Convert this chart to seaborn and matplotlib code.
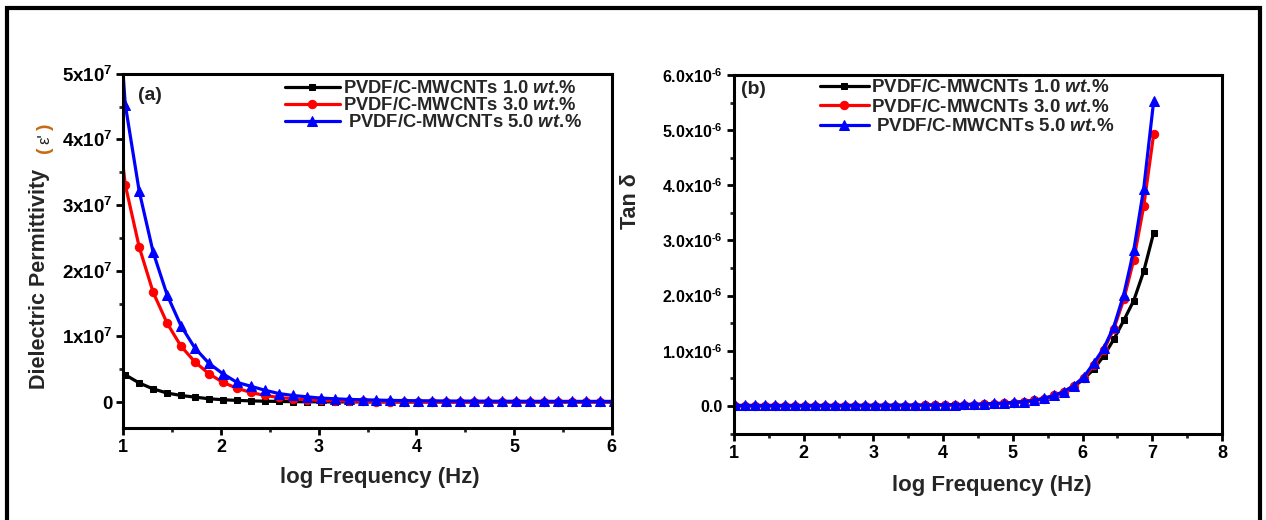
import matplotlib
matplotlib.use("Agg")
import matplotlib.pyplot as plt
import seaborn as sns
import pandas as pd
from matplotlib.patches import Rectangle
from matplotlib.ticker import MultipleLocator, FixedLocator, FixedFormatter

# ---------------- data ----------------
log_freq = [0.877, 1.020, 1.163, 1.306, 1.449, 1.591, 1.734, 1.877, 2.020, 2.163,
            2.306, 2.449, 2.591, 2.734, 2.877, 3.020, 3.163, 3.306, 3.449, 3.591,
            3.734, 3.877, 4.020, 4.163, 4.306, 4.449, 4.591, 4.734, 4.877, 5.020,
            5.163, 5.306, 5.449, 5.591, 5.734, 5.877, 6.020, 6.163, 6.306, 6.449,
            6.591, 6.734, 6.877, 7.020]

series_labels = ["PVDF/C-MWCNTs 1.0 $\\mathit{wt.\\!\\%}$",
                 "PVDF/C-MWCNTs 3.0 $\\mathit{wt.\\!\\%}$",
                 " PVDF/C-MWCNTs 5.0 $\\mathit{wt.\\!\\%}$"]

# Dielectric permittivity, units of 1e7 (first 37 frequencies)
perm_1wt = [0.72, 0.415, 0.29, 0.20, 0.137, 0.10, 0.075, 0.05, 0.035, 0.025,
            0.018, 0.013, 0.009, 0.006, 0.004, 0.003, 0.002, 0.002, 0.001, 0.001,
            0.001, 0.001, 0.001, 0.001, 0.0, 0.0, 0.0, 0.0, 0.0, 0.0,
            0.0, 0.0, 0.0, 0.0, 0.0, 0.0, 0.0]
perm_3wt = [5.15, 3.31, 2.36, 1.67, 1.20, 0.85, 0.61, 0.43, 0.30, 0.21,
            0.146, 0.10, 0.07, 0.05, 0.035, 0.025, 0.018, 0.013, 0.009, 0.007,
            0.005, 0.004, 0.003, 0.002, 0.002, 0.002, 0.001, 0.001, 0.001, 0.001,
            0.001, 0.001, 0.0, 0.0, 0.0, 0.0, 0.0]
perm_5wt = [7.6, 4.53, 3.21, 2.28, 1.63, 1.16, 0.82, 0.59, 0.43, 0.30,
            0.24, 0.18, 0.13, 0.10, 0.08, 0.06, 0.05, 0.04, 0.035, 0.03,
            0.025, 0.022, 0.02, 0.018, 0.016, 0.015, 0.014, 0.013, 0.012, 0.012,
            0.011, 0.011, 0.01, 0.01, 0.01, 0.01, 0.01]

# Tan delta, units of 1e-6 (44 frequencies)
tan_1wt = [0.0, 0.0, 0.0, 0.0, 0.0, 0.0, 0.0, 0.0, 0.0, 0.0,
           0.001, 0.001, 0.002, 0.002, 0.003, 0.003, 0.004, 0.005, 0.006, 0.007,
           0.008, 0.01, 0.012, 0.015, 0.018, 0.022, 0.028, 0.036, 0.046, 0.06,
           0.08, 0.10, 0.13, 0.18, 0.25, 0.35, 0.49, 0.67, 0.91, 1.21,
           1.55, 1.91, 2.44, 3.14]
tan_3wt = [0.0, 0.0, 0.0, 0.0, 0.0, 0.0, 0.0, 0.0, 0.0, 0.0,
           0.001, 0.001, 0.002, 0.002, 0.003, 0.003, 0.004, 0.005, 0.006, 0.007,
           0.008, 0.01, 0.012, 0.015, 0.018, 0.022, 0.028, 0.036, 0.046, 0.06,
           0.08, 0.10, 0.13, 0.19, 0.26, 0.37, 0.51, 0.74, 1.02, 1.40,
           1.93, 2.65, 3.62, 4.93]
tan_5wt = [0.01, 0.01, 0.01, 0.01, 0.01, 0.01, 0.01, 0.01, 0.01, 0.01,
           0.011, 0.011, 0.012, 0.012, 0.013, 0.013, 0.014, 0.015, 0.016, 0.017,
           0.018, 0.02, 0.022, 0.025, 0.028, 0.032, 0.037, 0.044, 0.053, 0.065,
           0.08, 0.10, 0.14, 0.19, 0.26, 0.37, 0.53, 0.78, 1.05, 1.44,
           2.02, 2.82, 3.94, 5.53]

perm_ticks = [0, 1, 2, 3, 4, 5]
perm_tick_labels = ["0", "1x10$^{7}$", "2x10$^{7}$", "3x10$^{7}$", "4x10$^{7}$", "5x10$^{7}$"]
tan_ticks = [0, 1, 2, 3, 4, 5, 6]
tan_tick_labels = ["0.0", "1.0x10$^{‐6}$", "2.0x10$^{‐6}$", "3.0x10$^{‐6}$",
                   "4.0x10$^{‐6}$", "5.0x10$^{‐6}$", "6.0x10$^{‐6}$"]

colors = ["#000000", "#ff0000", "#0000ff"]
markers = ["s", "o", "^"]
msizes = [5.0, 6.0, 7.0]

# ---------------- style ----------------
sns.set_style("ticks")
plt.rcParams["font.family"] = ["Liberation Sans", "DejaVu Sans"]
plt.rcParams["font.weight"] = "bold"
plt.rcParams["mathtext.fontset"] = "custom"
plt.rcParams["mathtext.rm"] = "Liberation Sans:bold"
plt.rcParams["mathtext.bf"] = "Liberation Sans:bold"
plt.rcParams["mathtext.it"] = "Liberation Sans:italic:bold"
plt.rcParams["mathtext.default"] = "rm"

W, H = 1266, 520
fig = plt.figure(figsize=(W / 100, H / 100), dpi=100)
fig.patch.set_facecolor("white")

def px_axes(left, top, right, bottom):
    return fig.add_axes([left / W, 1 - bottom / H, (right - left) / W, (bottom - top) / H])

ax1 = px_axes(123.3, 73.8, 611.7, 428.3)
ax2 = px_axes(734, 75, 1222, 433.5)

perm_series = [perm_1wt, perm_3wt, perm_5wt]
tan_series = [tan_1wt, tan_3wt, tan_5wt]

for i in range(3):
    n = len(perm_series[i])
    sns.lineplot(x=log_freq[:n], y=perm_series[i], ax=ax1, color=colors[i],
                 marker=markers[i], markersize=msizes[i], markeredgecolor=colors[i],
                 linewidth=2.3, label=series_labels[i], sort=False, estimator=None)
    sns.lineplot(x=log_freq, y=tan_series[i], ax=ax2, color=colors[i],
                 marker=markers[i], markersize=msizes[i], markeredgecolor=colors[i],
                 linewidth=2.3, label=series_labels[i], sort=False, estimator=None)

ax1.set_xlim(1, 6)
ax1.set_ylim(-0.4, 5.0)
ax2.set_xlim(1, 8)
ax2.set_ylim(-0.5, 6.0)

ax1.xaxis.set_major_locator(MultipleLocator(1))
ax1.xaxis.set_minor_locator(MultipleLocator(0.5))
ax1.yaxis.set_major_locator(FixedLocator(perm_ticks))
ax1.yaxis.set_major_formatter(FixedFormatter(perm_tick_labels))
ax1.yaxis.set_minor_locator(MultipleLocator(0.5))

ax2.xaxis.set_major_locator(MultipleLocator(1))
ax2.xaxis.set_minor_locator(MultipleLocator(0.5))
ax2.yaxis.set_major_locator(FixedLocator(tan_ticks))
ax2.yaxis.set_major_formatter(FixedFormatter(tan_tick_labels))
ax2.yaxis.set_minor_locator(MultipleLocator(0.5))

for ax, ysize in ((ax1, 13.5), (ax2, 11.5)):
    for s in ax.spines.values():
        s.set_visible(True)
        s.set_linewidth(2.2)
        s.set_color("black")
    ax.tick_params(which="major", direction="out", length=5, width=2,
                   top=False, right=False, pad=3, colors="black")
    ax.tick_params(which="minor", direction="out", length=3, width=2,
                   top=False, right=False)
    ax.tick_params(axis="x", labelsize=13)
    ax.tick_params(axis="y", labelsize=ysize)
    for lab in ax.get_xticklabels() + ax.get_yticklabels():
        lab.set_fontweight("bold")
    ax.set_xlabel("")
    ax.set_ylabel("")
    ax.set_facecolor("white")

leg1 = ax1.legend(loc="upper left", bbox_to_anchor=(0.331, 0.982), frameon=False,
                  borderaxespad=0, borderpad=0, handlelength=3.0, handletextpad=0.15,
                  labelspacing=0.0, prop={"weight": "bold", "size": 13.2})
leg2 = ax2.legend(loc="upper left", bbox_to_anchor=(0.176, 0.988), frameon=False,
                  borderaxespad=0, borderpad=0, handlelength=2.6, handletextpad=0.15,
                  labelspacing=0.12, prop={"weight": "bold", "size": 13.5})

# ---------------- texts ----------------
def ftext(x, y, s, **kw):
    fig.text(x / W, 1 - y / H, s, **kw)

ftext(150, 95, "(a)", ha="center", va="center", fontsize=14, fontweight="bold", color="#222222")
ftext(753, 90, "(b)", ha="center", va="center", fontsize=14, fontweight="bold", color="#222222")

ftext(380, 478, "log Frequency (Hz)", ha="center", va="center", fontsize=16, fontweight="bold")
ftext(992, 485, "log Frequency (Hz)", ha="center", va="center", fontsize=16, fontweight="bold")

ftext(40, 279, "Dielectric Permittivity", ha="center", va="center", rotation=90,
      fontsize=15.5, fontweight="bold")
ftext(45, 150, "(", ha="center", va="center", rotation=90, fontsize=14,
      fontweight="bold", color="#c86a10")
ftext(45, 139, "ε'", ha="center", va="center", rotation=90, fontsize=12,
      fontweight="normal", color="#222222")
ftext(45, 127, ")", ha="center", va="center", rotation=90, fontsize=14,
      fontweight="bold", color="#c86a10")

ftext(631, 201, "Tan δ", ha="center", va="center", rotation=90, fontsize=15.5, fontweight="bold")

# outer frame
fig.patches.append(Rectangle((7 / W, -0.05), (1260 - 7) / W, 1.05 - 8 / H,
                             transform=fig.transFigure, fill=False,
                             edgecolor="black", linewidth=3, zorder=10))

fig.savefig("out.png", dpi=100, facecolor="white")
